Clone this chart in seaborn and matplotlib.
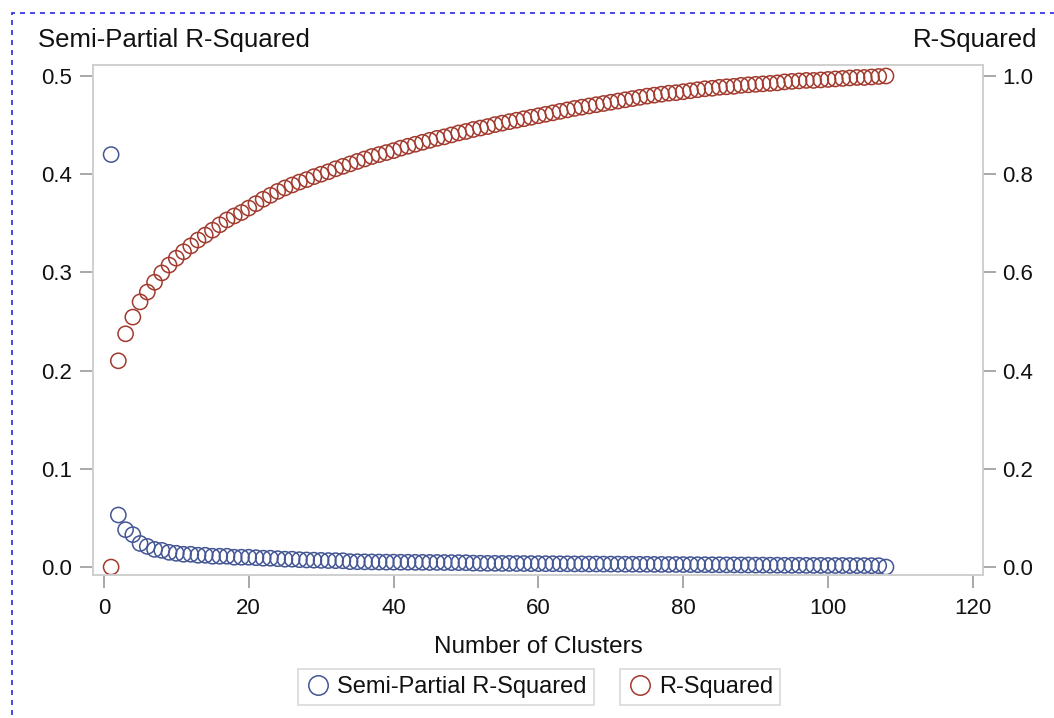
import numpy as np
import pandas as pd
import matplotlib
matplotlib.use("Agg")
import matplotlib.pyplot as plt
import seaborn as sns
from matplotlib.lines import Line2D
from matplotlib.patches import Rectangle

clusters = list(range(1, 109))

sprsq = [0.420, 0.053, 0.038, 0.033, 0.024, 0.021, 0.018, 0.017, 0.015, 0.014,
         0.013, 0.013, 0.012, 0.012, 0.011, 0.011, 0.011, 0.010, 0.010, 0.010,
         0.0095, 0.009, 0.009, 0.0085, 0.008, 0.008, 0.0075, 0.0072, 0.0070, 0.0068,
         0.0066, 0.0065, 0.0064, 0.0055, 0.0054, 0.0053, 0.0052, 0.0051, 0.0050, 0.0050,
         0.0049, 0.0049, 0.0048, 0.0048, 0.0047, 0.0047, 0.0046, 0.0045, 0.0045, 0.0044,
         0.0040, 0.0039, 0.0038, 0.0038, 0.0037, 0.0037, 0.0036, 0.0036, 0.0035, 0.0035,
         0.0034, 0.0034, 0.0033, 0.0033, 0.0032, 0.0032, 0.0031, 0.0031, 0.0030, 0.0030,
         0.0030, 0.0029, 0.0029, 0.0028, 0.0028, 0.0027, 0.0027, 0.0026, 0.0026, 0.0025,
         0.0025, 0.0024, 0.0024, 0.0023, 0.0023, 0.0022, 0.0022, 0.0021, 0.0021, 0.0020,
         0.0020, 0.0019, 0.0019, 0.0018, 0.0018, 0.0018, 0.0017, 0.0017, 0.0017, 0.0016,
         0.0016, 0.0016, 0.0015, 0.0015, 0.0015, 0.0014, 0.0014, 0.0000]

rsq = [0.000, 0.420, 0.475, 0.509, 0.540, 0.560, 0.580, 0.599, 0.615, 0.629,
       0.642, 0.654, 0.666, 0.676, 0.686, 0.697, 0.707, 0.715, 0.722, 0.731,
       0.740, 0.749, 0.757, 0.765, 0.772, 0.778, 0.784, 0.789, 0.795, 0.800,
       0.805, 0.811, 0.816, 0.821, 0.826, 0.831, 0.836, 0.840, 0.844, 0.848,
       0.853, 0.857, 0.861, 0.865, 0.869, 0.873, 0.876, 0.880, 0.884, 0.887,
       0.891, 0.894, 0.897, 0.901, 0.904, 0.907, 0.910, 0.913, 0.916, 0.919,
       0.922, 0.925, 0.928, 0.931, 0.934, 0.9365, 0.939, 0.9415, 0.944, 0.9465,
       0.949, 0.9515, 0.954, 0.9565, 0.959, 0.961, 0.963, 0.965, 0.966, 0.968,
       0.970, 0.972, 0.974, 0.975, 0.977, 0.978, 0.979, 0.981, 0.982, 0.983,
       0.984, 0.985, 0.986, 0.988, 0.989, 0.990, 0.991, 0.991, 0.992, 0.993,
       0.994, 0.995, 0.996, 0.997, 0.997, 0.998, 0.999, 1.000]

x_ticks = [0, 20, 40, 60, 80, 100, 120]
left_ticks = [0.0, 0.1, 0.2, 0.3, 0.4, 0.5]
right_ticks = [0.0, 0.2, 0.4, 0.6, 0.8, 1.0]

df = pd.DataFrame({"ncl": clusters, "sprsq": sprsq, "rsq": rsq})

sns.set_theme(style="white")
plt.rcParams["font.family"] = ["Liberation Sans", "DejaVu Sans"]

BLUE = "#445694"
RED = "#A23A2E"
FRAME = "#cfcfcf"
TICKC = "#9a9a9a"
TXT = "#111111"

fig = plt.figure(figsize=(10.54, 7.18), dpi=100)
ax = fig.add_axes([93/1054, 1-575/718, (983-93)/1054, (575-65)/718])
ax2 = ax.twinx()

sns.scatterplot(data=df, x="ncl", y="sprsq", ax=ax, marker="o", s=120,
                facecolors="none", edgecolor=BLUE, linewidth=1.1, legend=False)
sns.scatterplot(data=df, x="ncl", y="rsq", ax=ax2, marker="o", s=120,
                facecolors="none", edgecolor=RED, linewidth=1.1, legend=False)

ax.set_xlim(-1.5, 121.4)
ax.set_ylim(-0.0081, 0.5112)
ax2.set_ylim(-0.0162, 1.0224)

ax.set_xticks(x_ticks)
ax.set_yticks(left_ticks)
ax2.set_yticks(right_ticks)
ax.set_xticklabels([str(t) for t in x_ticks])
ax.set_yticklabels([f"{t:.1f}" for t in left_ticks])
ax2.set_yticklabels([f"{t:.1f}" for t in right_ticks])

for a in (ax, ax2):
    for sp in a.spines.values():
        sp.set_color(FRAME)
        sp.set_linewidth(1.2)
    a.tick_params(axis="both", which="major", length=9.5, width=1.2, color=TICKC,
                  labelsize=16, labelcolor=TXT)
ax.tick_params(axis="x", pad=7, bottom=True)
ax.tick_params(axis="y", pad=5.5, left=True)
ax2.tick_params(axis="y", pad=4, right=True)

ax.set_xlabel("Number of Clusters", fontsize=17.5, color=TXT, labelpad=12)
ax.set_ylabel("")
ax2.set_ylabel("")

fig.text(38/1054, 1-40/718, "Semi-Partial R-Squared", ha="left", va="center",
         fontsize=18.5, color=TXT)
fig.text(1037/1054, 1-40/718, "R-Squared", ha="right", va="center",
         fontsize=18.5, color=TXT)

h1 = Line2D([], [], marker="o", linestyle="none", markersize=14,
            markerfacecolor="none", markeredgecolor=BLUE, markeredgewidth=1.1)
h2 = Line2D([], [], marker="o", linestyle="none", markersize=14,
            markerfacecolor="none", markeredgecolor=RED, markeredgewidth=1.1)
leg1 = fig.legend([h1], ["Semi-Partial R-Squared"], loc="center",
                  bbox_to_anchor=(446/1054, 1-687/718), fontsize=17,
                  frameon=True, fancybox=False, handletextpad=0.25,
                  handlelength=1.1, borderpad=0.3, borderaxespad=0)
leg2 = fig.legend([h2], ["R-Squared"], loc="center",
                  bbox_to_anchor=(700/1054, 1-687/718), fontsize=17,
                  frameon=True, fancybox=False, handletextpad=0.25,
                  handlelength=1.1, borderpad=0.3, borderaxespad=0)
for lg in (leg1, leg2):
    lg.get_frame().set_edgecolor(FRAME)
    lg.get_frame().set_linewidth(1.2)
    for t in lg.get_texts():
        t.set_color(TXT)

border = Rectangle((12/1054, -0.05), 1.1, 1 - 13/718 + 0.05, transform=fig.transFigure,
                   fill=False, edgecolor="#2a2ae0", linestyle=(0, (3, 3)),
                   linewidth=1.2, clip_on=False)
fig.patches.append(border)

fig.savefig("out.png", dpi=100)
